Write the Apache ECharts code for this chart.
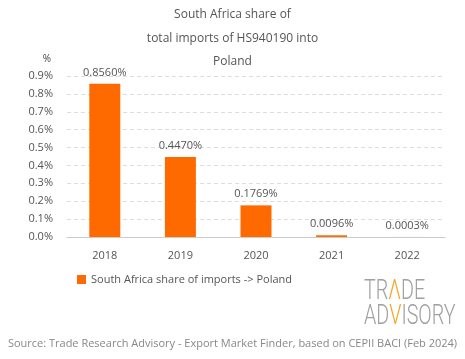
<!DOCTYPE html>
<html><head><meta charset="utf-8">
<script src="https://cdn.jsdelivr.net/npm/echarts@6/dist/echarts.min.js"></script>
<style>html,body{margin:0;padding:0;background:#fff}#c{width:465px;height:359px}</style>
</head><body><div id="c"></div>
<script>
const categories = ['2018','2019','2020','2021','2022'];
const values = [0.856, 0.447, 0.1769, 0.0096, 0.0003];
const labels = ['0.8560%','0.4470%','0.1769%','0.0096%','0.0003%'];
const seriesName = 'South Africa share of imports -> Poland';
const FONT = '"Open Sans", sans-serif';
const chart = echarts.init(document.getElementById('c'), null, {renderer:'canvas'});
const logoRich = {g:{fill:'#a0a0a0',fontSize:27,fontFamily:'Roboto',fontWeight:300},o:{fill:'#f5a623',fontSize:27,fontFamily:'Roboto',fontWeight:300}};
chart.setOption({
  animation:false,
  textStyle:{fontFamily:FONT},
  title:{text:'South Africa share of\ntotal imports of HS940190 into\nPoland', left:'center', top:-2,
    textStyle:{fontSize:12, fontWeight:'normal', color:'#555', lineHeight:23.5, fontFamily:FONT}},
  grid:{left:67, right:20, top:76, bottom:122},
  xAxis:{type:'category', data:categories, axisTick:{show:false},
    axisLine:{lineStyle:{color:'#ccc'}},
    axisLabel:{color:'#555', fontSize:11, margin:13}},
  yAxis:{type:'value', min:0, max:0.9, interval:0.1, name:'%', nameGap:12,
    nameTextStyle:{color:'#444', fontSize:10, align:'right', padding:[0,16,0,0]},
    axisLabel:{color:'#555', fontSize:11, margin:14, formatter:v=>v.toFixed(1)+'%'},
    splitLine:{lineStyle:{color:'#ddd', type:[4,3]}}},
  legend:{left:72, top:269, itemWidth:9, itemHeight:9, icon:'rect',
    textStyle:{color:'#555', fontSize:11}},
  series:[{name:seriesName, type:'bar', data:values, barWidth:31, itemStyle:{color:'#ff6a00'},
    label:{show:true, position:'top', distance:6, color:'#555', fontSize:11,
      formatter:p=>labels[p.dataIndex]}}],
  graphic:[
    {type:'text', left:'center', top:338, style:{text:'Source: Trade Research Advisory - Export Market Finder, based on CEPII BACI (Feb 2024)', fill:'#888', fontSize:11, fontFamily:FONT}},
    {type:'text', x:364, y:279, scaleX:0.73, style:{x:0, y:0, text:'{g|TR}{o|Λ}{g|DE}', rich:logoRich}},
    {type:'text', x:364, y:304, scaleX:0.73, style:{x:0, y:0, text:'{g|AD}{o|V}{g|ISORY}', rich:logoRich}}
  ]
});
</script></body></html>
